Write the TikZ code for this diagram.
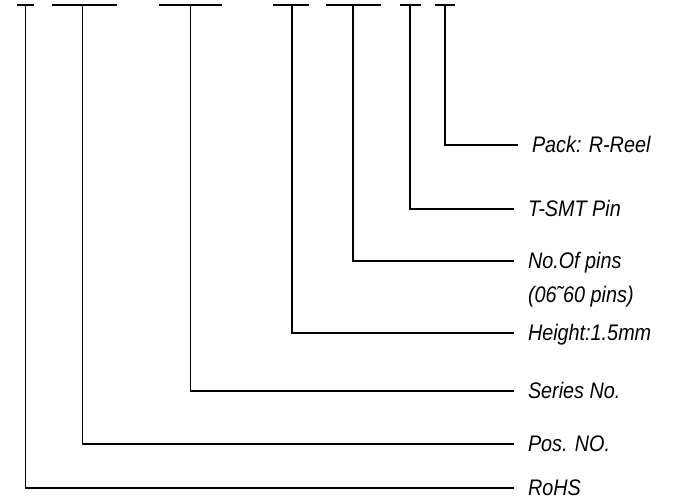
\documentclass[tikz,border=0pt]{standalone}
\usepackage{fontspec}
\setmainfont{Liberation Sans}[FakeStretch=0.88]
\usepackage{tikz}

\begin{document}
\begin{tikzpicture}[x=1pt, y=-1pt, line width=1.4pt,
    lbl/.style={anchor=west, inner xsep=0pt, outer xsep=14pt,
        font=\itshape\fontsize{22.5}{26}\selectfont, text height=16pt, text depth=2pt}]
    \useasboundingbox (0,0) rectangle (681,501);

    % Top marks of the part number
    \foreach \a/\b/\s/\n in {17/34/25.5/rohs, 52/117/82.5/pos, 159/222/190.5/series,
        273/309/292/height, 326/381/353/pins, 400/421/410/tsmt, 435/455/445/pack} {
        \draw (\a,5) -- (\b,5);
        \coordinate (\n mark) at (\s,5);
    }

    % Labels
    \node[lbl] (pack) at (518,145) {Pack: R-Reel};
    \node[lbl] (tsmt) at (514,209) {T-SMT Pin};
    \node[lbl] (pins) at (514,261) {No.Of pins};
    \node[lbl] (pinsrange) at (514,295) {(06˜60 pins)};
    \node[lbl] (height) at (514,333) {Height:1.5mm};
    \node[lbl] (series) at (514,391) {Series No.};
    \node[lbl] (pos) at (514,444) {Pos. NO.};
    \node[lbl] (rohs) at (514,488) {RoHS};

    % Leaders
    \foreach \n in {pack, tsmt, pins, height, series, pos, rohs}
        \draw (\n mark) |- (\n.west);
\end{tikzpicture}
\end{document}
